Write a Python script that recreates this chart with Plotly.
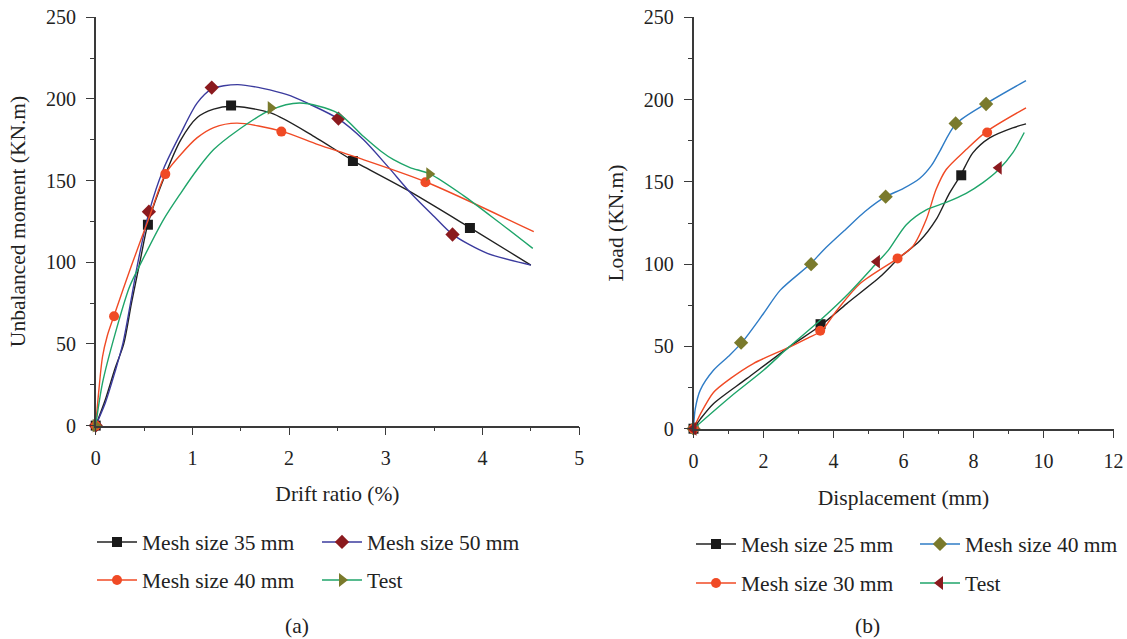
import plotly.graph_objects as go

# ---------------- Panel (a): unbalanced moment vs drift ratio ----------------
a35_x = [0, 0.1, 0.2, 0.29, 0.37, 0.46, 0.54, 0.72, 0.88, 1.05, 1.22, 1.4, 1.81, 2.26, 2.66, 3.22, 3.87, 4.5]
a35_y = [0, 16, 35, 50, 75, 101, 123.5, 153.7, 175, 188.7, 193.8, 195.5, 191.5, 177, 162.3, 144.3, 121.2, 98.3]
a35_mx = [0, 0.54, 1.40, 2.66, 3.87]
a35_my = [0, 123, 196, 162, 121]

a50_x = [0, 0.1, 0.2, 0.28, 0.36, 0.44, 0.553, 0.7, 0.88, 1.05, 1.2, 1.47, 1.98, 2.22, 2.51, 2.77, 3.02, 3.26, 3.5, 3.69, 4.05, 4.5]
a50_y = [0, 14, 33, 50, 75, 101, 131, 157, 179, 197.6, 206, 208.8, 202.7, 196.6, 187.8, 175, 158.7, 142.3, 128, 117.1, 105.5, 98.3]
a50_mx = [0, 0.55, 1.2, 2.51, 3.69]
a50_my = [0, 131, 207, 188, 117]

a40_x = [0, 0.03, 0.07, 0.12, 0.186, 0.37, 0.55, 0.72, 0.88, 1.05, 1.22, 1.46, 1.92, 2.3, 2.67, 3.41, 4.53]
a40_y = [0, 20, 42, 55, 66.7, 98, 127, 154, 166, 176.3, 182.5, 185.2, 180.3, 172, 164.8, 149.3, 118.7]
a40_mx = [0, 0.19, 0.72, 1.92, 3.41]
a40_my = [0, 67, 154, 180, 149]

aT_x = [0, 0.07, 0.2, 0.35, 0.48, 0.7, 0.88, 1.05, 1.22, 1.46, 1.8, 2.11, 2.5, 2.77, 2.95, 3.08, 3.25, 3.46, 3.8, 4.16, 4.52]
aT_y = [0, 26, 56, 85, 101, 126, 142.4, 156.8, 169, 180.4, 193, 197.5, 191.5, 177, 168, 162.8, 158, 154, 141, 125, 108.5]
aT_mx = [0, 1.81, 3.45]
aT_my = [0, 194.5, 154]

# ---------------- Panel (b): load vs displacement ----------------
b25_x = [0, 0.2, 0.57, 1.52, 2.71, 3.65, 4.38, 5.33, 5.89, 6.46, 6.93, 7.31, 7.63, 7.98, 8.46, 9.12, 9.5]
b25_y = [0, 6, 15.2, 30.4, 49.3, 63, 76, 92.3, 104, 114, 127, 143, 154, 167.6, 176.7, 182.8, 185.2]
b25_mx = [0, 3.63, 7.65]
b25_my = [0, 63.5, 154]

b30_x = [0, 0.2, 0.57, 1.05, 1.71, 2.71, 3.29, 3.64, 4.1, 4.76, 5.83, 6.27, 6.65, 6.93, 7.22, 7.79, 8.36, 9.5]
b30_y = [0, 9, 22, 30.4, 39.6, 49.3, 55.4, 59.2, 72, 88.2, 103.5, 110.9, 127.1, 145.3, 157.5, 169.6, 180.4, 195]
b30_mx = [0, 3.62, 5.83, 8.39]
b30_my = [0, 59.5, 103.5, 180]

b40_x = [0, 0.05, 0.19, 0.57, 1.0, 1.38, 2.0, 2.48, 3.36, 3.71, 4.36, 4.9, 5.49, 6.0, 6.46, 6.8, 7.03, 7.49, 8.36, 9.5]
b40_y = [0, 12, 23.3, 35.5, 44, 52.3, 70, 84.2, 100.5, 108.5, 121.4, 132, 141, 146, 152, 160, 168.4, 185, 197.5, 211.5]
b40_mx = [0, 1.36, 3.36, 5.49, 7.49, 8.36]
b40_my = [0, 52.3, 100, 141, 185.5, 197.3]

bT_x = [0, 1.05, 2.0, 2.71, 3.62, 4.38, 5.24, 5.57, 6.08, 6.65, 7.22, 7.79, 8.27, 8.7, 9.12, 9.45]
bT_y = [0, 19.3, 35.5, 49.3, 65.9, 81.1, 100.8, 108.5, 124, 133, 137.5, 143, 149.5, 157, 167.6, 180]
bT_mx = [0, 5.24, 8.72]
bT_my = [0, 101.5, 158.5]

FONT = "Liberation Serif"
TXT = "#222222"
AX = "#3a3a3a"

fig = go.Figure()

def add_series(name, cx, cy, mx, my, lcol, mcol, sym, msize, xa, ya, leg):
    fig.add_trace(go.Scatter(x=cx, y=cy, mode="lines", xaxis=xa, yaxis=ya,
                             line=dict(color=lcol, width=1.4, shape="spline", smoothing=0.8),
                             showlegend=False, hoverinfo="skip", cliponaxis=False))
    fig.add_trace(go.Scatter(x=mx, y=my, mode="markers", xaxis=xa, yaxis=ya,
                             marker=dict(color=mcol, symbol=sym, size=msize, line=dict(width=0)),
                             showlegend=False, cliponaxis=False, name=name))
    fig.add_trace(go.Scatter(x=[None], y=[None], mode="lines+markers", xaxis=xa, yaxis=ya,
                             line=dict(color=lcol, width=1.4),
                             marker=dict(color=mcol, symbol=sym, size=msize, line=dict(width=0)),
                             name=name, showlegend=True, legend=leg))

RED = "#f04a25"
add_series("Mesh size 35 mm", a35_x, a35_y, a35_mx, a35_my, "#222222", "#1a1a1a", "square", 10, "x", "y", "legend")
add_series("Mesh size 50 mm", a50_x, a50_y, a50_mx, a50_my, "#3b3b9e", "#8b1a1e", "diamond", 11, "x", "y", "legend2")
add_series("Mesh size 40 mm", a40_x, a40_y, a40_mx, a40_my, RED, RED, "circle", 10, "x", "y", "legend3")
add_series("Test", aT_x, aT_y, aT_mx, aT_my, "#1fa56a", "#7a7a2c", "triangle-right", 12, "x", "y", "legend4")

add_series("Mesh size 25 mm", b25_x, b25_y, b25_mx, b25_my, "#222222", "#1a1a1a", "square", 10, "x2", "y2", "legend5")
add_series("Mesh size 40 mm", b40_x, b40_y, b40_mx, b40_my, "#2f7cc6", "#7a7a2c", "diamond", 11, "x2", "y2", "legend6")
add_series("Mesh size 30 mm", b30_x, b30_y, b30_mx, b30_my, RED, RED, "circle", 10, "x2", "y2", "legend7")
add_series("Test", bT_x, bT_y, bT_mx, bT_my, "#1fa56a", "#8b1a1e", "triangle-left", 12, "x2", "y2", "legend8")

axis_common = dict(showline=True, linecolor=AX, linewidth=1.5, showgrid=False, zeroline=False,
                   ticks="outside", ticklen=8, tickwidth=1.3, tickcolor=AX,
                   tickfont=dict(family=FONT, size=20, color=TXT),
                   title_font=dict(family=FONT, size=21.5, color=TXT))

fig.update_layout(
    width=1127, height=639, margin=dict(l=0, r=0, t=0, b=0, autoexpand=False),
    paper_bgcolor="white", plot_bgcolor="white",
    xaxis=dict(domain=[95.7/1127, 579.2/1127], range=[0, 5], dtick=1, anchor="y",
               minor=dict(ticks="outside", ticklen=4, dtick=0.5, tickcolor=AX, tickwidth=1.3),
               title=dict(text="Drift ratio (%)", standoff=18), ticklabelstandoff=6, **axis_common),
    yaxis=dict(domain=[1-425.6/639, 1-17.3/639], range=[0, 250], dtick=50, anchor="x",
               minor=dict(ticks="outside", ticklen=4, dtick=25, tickcolor=AX, tickwidth=1.3),
               title=dict(text="Unbalanced moment (KN.m)", standoff=14), ticklabelstandoff=6, **axis_common),
    xaxis2=dict(domain=[693.5/1127, 1113.5/1127], range=[0, 12], dtick=2, anchor="y2",
                minor=dict(ticks="outside", ticklen=4, dtick=1, tickcolor=AX, tickwidth=1.3),
                title=dict(text="Displacement (mm)", standoff=18), ticklabelstandoff=6, **axis_common),
    yaxis2=dict(domain=[1-428.7/639, 1-17.3/639], range=[0, 250], dtick=50, anchor="x2",
                minor=dict(ticks="outside", ticklen=4, dtick=25, tickcolor=AX, tickwidth=1.3),
                title=dict(text="Load (KN.m)", standoff=14), ticklabelstandoff=6, **axis_common),
)

leg_common = dict(xanchor="left", yanchor="middle", bgcolor="rgba(0,0,0,0)",
                  font=dict(family=FONT, size=21.5, color=TXT), itemwidth=40)
positions = {
    "legend": (92, 542), "legend2": (317, 542), "legend3": (92, 580), "legend4": (317, 580),
    "legend5": (691, 544), "legend6": (915, 544), "legend7": (691, 583), "legend8": (915, 583),
}
for k, (px, py) in positions.items():
    fig.update_layout({k: dict(x=px/1127, y=1-py/639, **leg_common)})

fig.add_annotation(text="(a)", x=297/1127, y=1-626/639, xref="paper", yref="paper",
                   xanchor="center", yanchor="middle",
                   showarrow=False, font=dict(family=FONT, size=21.5, color=TXT))
fig.add_annotation(text="(b)", x=867/1127, y=1-626/639, xref="paper", yref="paper",
                   xanchor="center", yanchor="middle",
                   showarrow=False, font=dict(family=FONT, size=21.5, color=TXT))

fig.write_html("out.html")
